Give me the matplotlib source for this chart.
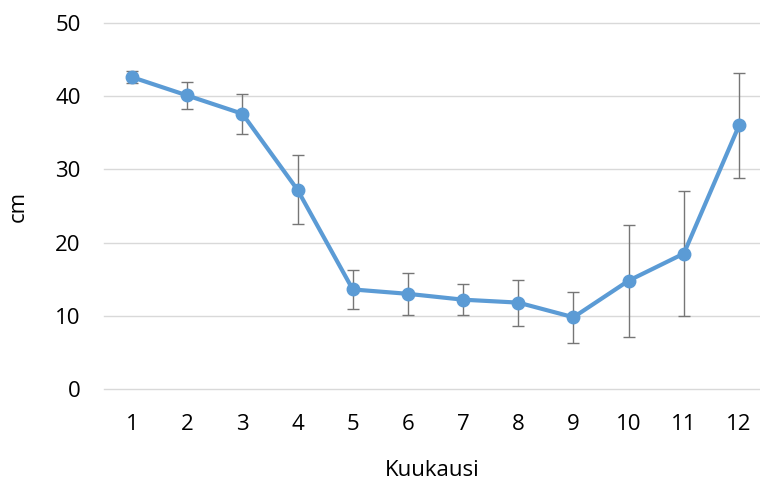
import matplotlib

matplotlib.use("Agg")
import matplotlib.pyplot as plt

months = [1, 2, 3, 4, 5, 6, 7, 8, 9, 10, 11, 12]
depth_cm = [42.6, 40.1, 37.6, 27.2, 13.6, 13.0, 12.2, 11.8, 9.8, 14.8, 18.5, 36.0]
depth_err = [0.8, 1.8, 2.7, 4.7, 2.7, 2.85, 2.15, 3.15, 3.5, 7.65, 8.5, 7.2]
y_ticks = [0, 10, 20, 30, 40, 50]

plt.rcParams["font.family"] = ["Open Sans", "DejaVu Sans"]

figure = plt.figure(figsize=(7.6, 4.8), dpi=100)
axis = figure.add_axes([0.1374, 0.1896, 0.8626, 0.7625])

axis.errorbar(
    months,
    depth_cm,
    yerr=depth_err,
    fmt="none",
    ecolor="#767676",
    elinewidth=1.0,
    capsize=4,
    capthick=1.0,
    zorder=2,
)
axis.plot(
    months,
    depth_cm,
    color="#5b9bd5",
    linewidth=3.0,
    marker="o",
    markersize=9,
    zorder=3,
)

axis.set_xlim(0.5, 12.38)
axis.set_ylim(0, 50)
axis.set_xticks(months)
axis.set_yticks(y_ticks)
axis.grid(axis="y", color="#d9d9d9", linewidth=1.0)
for gridline in axis.get_ygridlines():
    gridline.set_clip_on(False)
axis.set_axisbelow(True)
for side in ["top", "right", "left", "bottom"]:
    axis.spines[side].set_visible(False)
axis.tick_params(length=0, labelsize=16, colors="#000000")
axis.tick_params(axis="x", pad=18)
axis.tick_params(axis="y", pad=17)
axis.set_xlabel("Kuukausi", fontsize=16, labelpad=18)
axis.set_ylabel("cm", fontsize=16, labelpad=19)

figure.savefig("out.png", dpi=100)
plt.close(figure)
